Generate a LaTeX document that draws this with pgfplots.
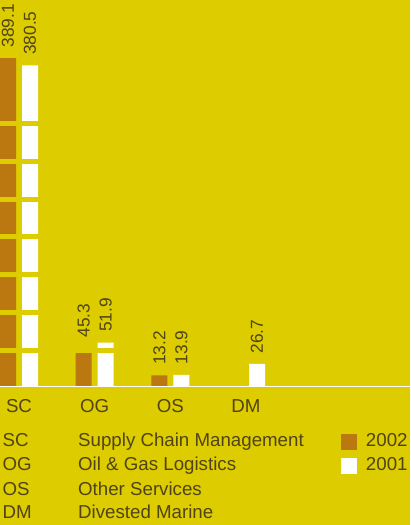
\documentclass[border=0pt]{standalone}
\usepackage{pgfplots}
\pgfplotsset{compat=1.18}
\usepackage{fontspec}
\setmainfont{Liberation Sans}
\definecolor{bgy}{RGB}{220,204,0}
\definecolor{brn}{RGB}{187,119,16}
\definecolor{txt}{RGB}{80,68,22}
\newcommand{\fs}{\fontsize{18.7}{22}\selectfont}
\newcommand{\fn}{\fontsize{17.3}{20}\selectfont}
\pgfplotsset{
  layers/mylayers/.define layer set={
    axis background,pre main,axis grid,main,axis ticks,axis lines,axis tick labels,axis descriptions,axis foreground
  }{
    grid style={/pgfplots/on layer=axis grid},
    tick style={/pgfplots/on layer=axis ticks},
    axis line style={/pgfplots/on layer=axis lines},
    label style={/pgfplots/on layer=axis descriptions},
    legend style={/pgfplots/on layer=axis descriptions},
    title style={/pgfplots/on layer=axis descriptions},
    colorbar style={/pgfplots/on layer=axis descriptions},
    ticklabel style={/pgfplots/on layer=axis tick labels},
    axis background@ style={/pgfplots/on layer=axis background},
    3d box foreground style={/pgfplots/on layer=axis foreground},
  },
  mysq/.style={legend image code/.code={\fill[##1,draw=none] (0pt,-8pt) rectangle (16pt,8pt);}},
}
\begin{document}
\begin{tikzpicture}
\fill[bgy] (0pt,0pt) rectangle (410pt,138.5pt);
\begin{axis}[
  set layers=mylayers,
  at={(0pt,138.5pt)}, anchor=south west,
  scale only axis, width=410pt, height=386.5pt,
  axis background/.style={fill=bgy},
  xmin=-0.2511, xmax=5.167, ymin=0, ymax=458,
  axis x line=bottom, axis y line=left,
  x axis line style={-, white, line width=1.6pt},
  y axis line style={draw=none},
  xtick={0,1,2,3}, xticklabels={SC,OG,OS,DM},
  xticklabel style={anchor=base, yshift=-26.5pt, font=\fs, text=txt},
  major tick length=0pt,
  ytick={42.7,87.4,132.5,177.4,221.9,266.6,311.6}, yticklabels={},
  ymajorgrids, grid style={draw=bgy, line width=5.3pt},
  ybar, bar width=16pt,
  /pgf/number format/assume math mode=true,
  /pgf/number format/fixed, /pgf/number format/precision=1, /pgf/number format/fixed zerofill,
  nodes near coords={\pgfmathprintnumber[assume math mode=true]{\pgfplotspointmeta}},
  every node near coord/.append style={rotate=90, anchor=west, inner xsep=10.5pt, inner ysep=0pt, font=\fn, text=txt},
  legend style={at={(axis description cs:0.8317,-0.1203)}, anchor=north west, draw=none, fill=none, inner sep=0pt, outer sep=0pt, font=\fs, text=txt, row sep=6.5pt, column sep=0pt,
    nodes={inner sep=0pt, text height=13.5pt, text depth=4pt}},
  legend cell align=left,
]
\addplot[on layer=pre main, fill=brn, draw=none, bar shift=-11pt, mysq, nodes near coords=] coordinates {(0,389.1) (1,45.3) (2,13.2)};
\addlegendentry{\hspace{9pt}2002}
\addplot[on layer=pre main, fill=white, draw=none, bar shift=11pt, mysq, nodes near coords=] coordinates {(0,380.5) (1,51.9) (2,13.9) (3,26.7)};
\addlegendentry{\hspace{9pt}2001}
\addplot[forget plot, draw=none, fill=none, bar shift=-11pt, nodes near coords] coordinates {(0,389.1) (1,45.3) (2,13.2)};
\addplot[forget plot, draw=none, fill=none, bar shift=11pt, nodes near coords] coordinates {(0,380.5) (1,51.9) (2,13.9) (3,26.7)};
\end{axis}
\begin{scope}[every node/.style={anchor=base west, inner sep=0pt, font=\fs, text=txt}]
\node at (2.5pt,78pt) {SC};
\node at (2.5pt,54pt) {OG};
\node at (2.5pt,30pt) {OS};
\node at (2.5pt,6pt) {DM};
\node at (78pt,78pt) {Supply Chain Management};
\node at (78pt,54pt) {Oil \& Gas Logistics};
\node at (78pt,30pt) {Other Services};
\node at (78pt,6pt) {Divested Marine};
\end{scope}
\pgfresetboundingbox
\path (0pt,0pt) rectangle (410pt,525pt);
\end{tikzpicture}
\end{document}
